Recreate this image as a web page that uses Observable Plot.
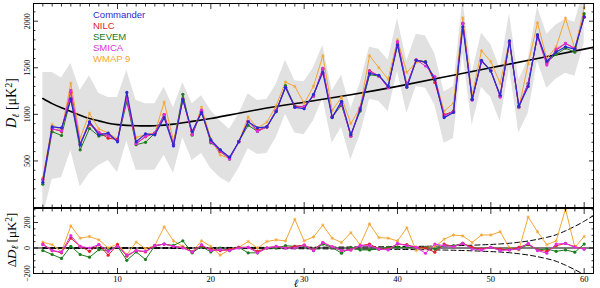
<!DOCTYPE html>
<html><head><meta charset="utf-8">
<script src="https://cdn.jsdelivr.net/npm/d3@7"></script>
<script src="https://cdn.jsdelivr.net/npm/@observablehq/plot@0.6"></script>
<style>
body{margin:0;background:#fff;}
#wrap{position:relative;width:600px;height:288px;overflow:hidden;}
#wrap svg{display:block;}
.leg{position:absolute;left:93px;top:9px;font:9.5px "Liberation Sans",Arial,sans-serif;line-height:11px;}
</style></head><body><div id="wrap"></div>
<script>
const ell = [2,3,4,5,6,7,8,9,10,11,12,13,14,15,16,17,18,19,20,21,22,23,24,25,26,27,28,29,30,31,32,33,34,35,36,37,38,39,40,41,42,43,44,45,46,47,48,49,50,51,52,53,54,55,56,57,58,59,60];
const commander = [270,865,855,1160,670,920,780,800,705,1235,705,790,780,965,660,1160,815,1020,725,620,540,705,920,855,865,1030,1290,1075,1060,1215,1450,965,1140,780,1050,1440,1420,1300,1745,1290,1580,1560,1375,965,1020,1940,1160,1580,1465,1205,1790,1085,1300,1855,1570,1670,1725,1700,2050];
const nilc = [301,845,817,1237,683,894,806,744,731,1171,685,759,798,996,673,1165,784,1040,712,600,527,710,925,829,865,1043,1290,1088,1083,1200,1493,975,1120,765,1068,1471,1412,1292,1776,1316,1585,1560,1342,996,1030,1976,1165,1572,1470,1197,1775,1090,1331,1840,1544,1688,1761,1710,2042];
const sevem = [250,814,773,1173,619,848,767,780,718,1138,674,700,798,996,680,1216,777,1033,694,620,520,710,882,817,865,1030,1308,1088,1078,1195,1481,970,1099,785,1035,1425,1412,1305,1750,1295,1580,1565,1367,983,1038,1976,1160,1572,1470,1190,1782,1077,1326,1840,1562,1644,1710,1667,2081];
const smica = [296,845,824,1257,683,920,806,774,718,1179,685,764,798,996,673,1160,784,1046,705,607,520,705,925,817,865,1043,1290,1075,1083,1195,1493,975,1120,765,1068,1458,1412,1285,1781,1308,1585,1519,1406,983,1030,1976,1152,1565,1470,1185,1775,1077,1336,1835,1529,1701,1761,1705,2042];
const wmap9 = [316,891,824,1334,747,1010,844,800,736,1184,751,785,800,1131,716,1173,784,1076,738,564,527,710,971,855,916,1094,1346,1300,1116,1302,1629,1042,1183,900,1076,1629,1502,1377,1801,1449,1560,1565,1385,1034,1122,2035,1203,1682,1567,1333,1790,1070,1543,1983,1596,1726,2032,1705,2140];

// differences (lower panel), relative to Commander
const dNilc  = [31,-20,-38,77,13,-26,26,-56,26,-64,-20,-31,18,31,13,5,-31,20,-13,-20,-13,5,5,-26,0,13,0,13,23,-15,43,10,-20,-15,18,31,-8,-8,31,26,5,0,-33,31,10,36,5,-8,5,-8,-15,5,31,-15,-26,18,36,10,-8];
const dSevem = [-20,-51,-82,13,-51,-72,-13,-20,13,-97,-31,-90,18,31,20,56,-38,13,-31,0,-20,5,-38,-38,0,0,18,13,18,-20,31,5,-41,5,-15,-15,-8,5,5,5,0,5,-8,18,18,36,0,-8,5,-15,-8,-8,26,-15,-8,-26,-15,-33,31];
const dSmica = [26,-20,-31,97,13,0,26,-26,13,-56,-20,-26,18,31,13,0,-31,26,-20,-13,-20,0,5,-38,0,13,0,0,23,-20,43,10,-20,-15,18,18,-8,-15,36,18,5,-41,31,18,10,36,-8,-15,5,-20,-15,-8,36,-20,-41,31,36,5,-8];
const dWmap9 = [46,26,-31,174,77,90,64,0,31,-51,46,-5,20,166,56,13,-31,56,13,-56,-13,5,51,0,51,64,56,225,56,87,179,77,43,120,26,189,82,77,56,159,-20,5,10,69,102,95,43,102,102,128,0,-15,243,128,26,56,307,5,90];

// grey band
const bandHi = [1450,1450,1390,1545,1255,1415,1225,1180,1180,1470,1150,1115,1115,1290,1070,1340,1115,1200,1040,930,840,1000,1220,1150,1160,1320,1580,1360,1350,1500,1740,1250,1420,1060,1330,1720,1700,1580,2030,1570,1860,1840,1650,1240,1300,2230,1440,1870,1750,1490,2080,1370,1590,2150,1860,1960,2020,1990,2340];
const bandLo = [-100,300,320,610,220,365,450,505,375,710,400,400,400,560,365,750,505,580,420,320,260,420,630,570,580,750,1000,800,780,930,1170,690,860,510,780,1160,1140,1030,1460,1010,1300,1280,1100,690,740,1650,880,1290,1180,920,1500,800,1010,1570,1280,1380,1440,1410,1760];

// best-fit model curve
const modelEll = [2,3,4,5,6,7,8,9,10,12,14,16,18,20,25,30,35,40,45,50,55,60,61];
const modelVal = [1170,1115,1070,1030,990,955,930,905,890,878,878,895,925,955,1050,1130,1210,1300,1400,1500,1600,1700,1720];

// expected scatter (lower panel dashed)
const noiseEll = [2,10,20,30,35,40,45,48,50,51,52,53,54,55,56,57,58,59,60,61];
const noiseHi  = [3,3,4,6,8,11,16,22,28,32,37,45,55,68,84,104,135,170,210,255];
const noiseLo  = [-3,-3,-4,-6,-8,-11,-16,-22,-28,-32,-37,-45,-55,-68,-84,-104,-135,-170,-210,-255];

const xTicks = [10,20,30,40,50,60];
const xMinor = [2,3,4,5,6,7,8,9,11,12,13,14,15,16,17,18,19,21,22,23,24,25,26,27,28,29,31,32,33,34,35,36,37,38,39,41,42,43,44,45,46,47,48,49,51,52,53,54,55,56,57,58,59,61];
const yTicksTop = [500,1000,1500,2000];
const yMinorTop = [100,200,300,400,600,700,800,900,1100,1200,1300,1400,1600,1700,1800,1900,2100];
const yTicksBot = [-200,0,200];
const yMinorBot = [-150,-100,-50,50,100,150,250,300];

const series = [
  {name:"WMAP 9", color:"#f2a634", top:wmap9, diff:dWmap9, sym:"asterisk"},
  {name:"SEVEM", color:"#1c7c1c", top:sevem, diff:dSevem, sym:"circle"},
  {name:"NILC", color:"#e2222a", top:nilc, diff:dNilc, sym:"circle"},
  {name:"SMICA", color:"#e22ee2", top:smica, diff:dSmica, sym:"circle"},
  {name:"Commander", color:"#2a2ad0", top:commander, diff:null, sym:"circle"}
];
const legendOrder = ["Commander","NILC","SEVEM","SMICA","WMAP 9"];

const band = ell.map((l,i)=>({l, lo:bandLo[i], hi:bandHi[i]}));
const model = modelEll.map((l,i)=>({l, v:modelVal[i]}));
const noise = noiseEll.map((l,i)=>({l, hi:noiseHi[i], lo:noiseLo[i]}));

const serif = "'Liberation Serif','DejaVu Serif',serif";
const fmtMinus = d => d < 0 ? "\u2212" + (-d) : String(d);

function frameAxes(yMajor, yMinor, showX) {
  const tk = {stroke:"black", strokeWidth:0.8, tickFormat:()=>"", label:null};
  const m = [
    Plot.axisX({...tk, anchor:"bottom", ticks:xTicks, tickSize:-5}),
    Plot.axisX({...tk, anchor:"bottom", ticks:xMinor, tickSize:-2.5}),
    Plot.axisX({...tk, anchor:"top", ticks:xTicks, tickSize:-5}),
    Plot.axisX({...tk, anchor:"top", ticks:xMinor, tickSize:-2.5}),
    Plot.axisY({...tk, anchor:"left", ticks:yMajor, tickSize:-5}),
    Plot.axisY({...tk, anchor:"left", ticks:yMinor, tickSize:-2.5}),
    Plot.axisY({...tk, anchor:"right", ticks:yMajor, tickSize:-5}),
    Plot.axisY({...tk, anchor:"right", ticks:yMinor, tickSize:-2.5}),
    Plot.text(yMajor, {y:d=>d, frameAnchor:"left", dx:-6, rotate:-90, text:fmtMinus, textAnchor:"middle", fontSize:8, fontFamily:serif, fill:"black"}),
    Plot.frame({stroke:"black", strokeWidth:1})
  ];
  if (showX) m.push(Plot.axisX({anchor:"bottom", ticks:xTicks, tickSize:0, tickPadding:2, label:null, fontSize:8.5, fontFamily:serif}));
  return m;
}

const topMarks = [
  Plot.areaY(band, {x:"l", y1:"lo", y2:"hi", fill:"#e1e1e1", clip:true}),
  Plot.line(model, {x:"l", y:"v", stroke:"black", strokeWidth:1.6, curve:"natural", clip:true})
];
for (const s of series) {
  const rows = ell.map((l,i)=>({l, v:s.top[i]}));
  topMarks.push(Plot.line(rows, {x:"l", y:"v", stroke:s.color, strokeWidth:s.name==="Commander"?1.2:1, clip:true}));
  topMarks.push(Plot.dot(rows, {x:"l", y:"v", r:1.6, fill:s.color, stroke:s.sym==="asterisk"?s.color:null, symbol:s.sym, strokeWidth:0.8, clip:true}));
}
topMarks.push(...frameAxes(yTicksTop, yMinorTop, false));

const topPlot = Plot.plot({
  width:600, height:208, marginLeft:33, marginRight:7, marginTop:3, marginBottom:1,
  x:{domain:[1,61]}, y:{domain:[0,2190]},
  style:{fontFamily:serif, background:"white", overflow:"visible"},
  marks: topMarks
});

const botMarks = [
  Plot.ruleY([0], {stroke:"black", strokeWidth:1.2}),
  Plot.line(noise, {x:"l", y:"hi", stroke:"black", strokeWidth:1, strokeDasharray:"5,3", curve:"natural", clip:true}),
  Plot.line(noise, {x:"l", y:"lo", stroke:"black", strokeWidth:1, strokeDasharray:"5,3", curve:"natural", clip:true})
];
for (const s of series) {
  if (!s.diff) continue;
  const rows = ell.map((l,i)=>({l, v:s.diff[i]}));
  botMarks.push(Plot.line(rows, {x:"l", y:"v", stroke:s.color, strokeWidth:1, clip:true}));
  botMarks.push(Plot.dot(rows, {x:"l", y:"v", r:1.6, fill:s.color, stroke:s.sym==="asterisk"?s.color:null, symbol:s.sym, strokeWidth:0.8, clip:true}));
}
botMarks.push(...frameAxes(yTicksBot, yMinorBot, true));

const botPlot = Plot.plot({
  width:600, height:80, marginLeft:33, marginRight:7, marginTop:0, marginBottom:15,
  x:{domain:[1,61]}, y:{domain:[-200,310]},
  style:{fontFamily:serif, background:"white", overflow:"visible"},
  marks: botMarks
});

const wrap = document.getElementById("wrap");
wrap.appendChild(topPlot);
wrap.appendChild(botPlot);

// axis titles with sub/superscripts
function title(svg, x, y, parts, size) {
  const t = d3.select(svg).append("text")
    .attr("transform", `translate(${x},${y}) rotate(-90)`)
    .attr("text-anchor","middle").attr("font-family", serif).attr("font-size", size).attr("fill","black");
  for (const p of parts) {
    const ts = t.append("tspan").text(p.t);
    if (p.i) ts.attr("font-style","italic");
    if (p.sub) ts.attr("baseline-shift","-25%").attr("font-size", size*0.72);
    if (p.sup) ts.attr("baseline-shift","40%").attr("font-size", size*0.72);
  }
}
title(topPlot, 16, 103, [{t:"D",i:1},{t:"ℓ",i:1,sub:1},{t:" [μK"},{t:"2",sup:1},{t:"]"}], 14);
title(botPlot, 16, 32, [{t:"Δ"},{t:"D",i:1},{t:"ℓ",i:1,sub:1},{t:" [μK"},{t:"2",sup:1},{t:"]"}], 13);
d3.select(botPlot).append("text").attr("x",296).attr("y",79).attr("text-anchor","middle")
  .attr("font-family",serif).attr("font-style","italic").attr("font-size",11).text("ℓ");

// legend
const leg = document.createElement("div");
leg.className = "leg";
for (const n of legendOrder) {
  const s = series.find(d=>d.name===n);
  const row = document.createElement("div");
  row.textContent = n; row.style.color = s.color;
  leg.appendChild(row);
}
wrap.appendChild(leg);
</script></body></html>
